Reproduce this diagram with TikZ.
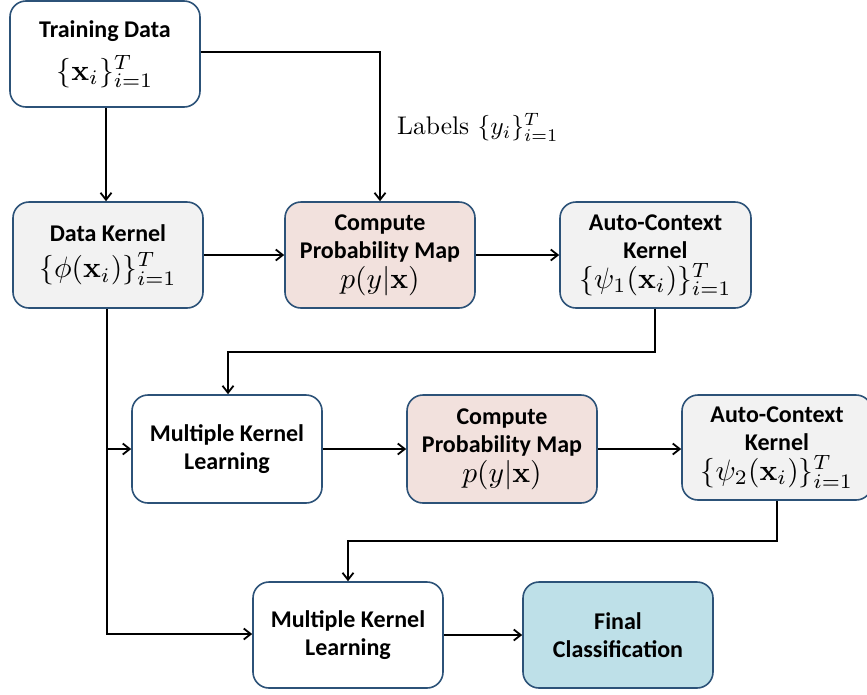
\documentclass[tikz,border=0pt]{standalone}
\usepackage{amsmath}
\usepackage{graphicx}
\usepackage[no-math]{fontspec}
\setmainfont{Carlito}
\newfontfamily\lmroman{Latin Modern Roman}
\usetikzlibrary{arrows.meta}
\definecolor{edgeblue}{RGB}{44,82,120}
\definecolor{kgray}{RGB}{242,242,242}
\definecolor{kpink}{RGB}{242,225,221}
\definecolor{kblue}{RGB}{190,224,232}
% formulas are set at 10pt and enlarged, so that all math sizes scale together
\newcommand{\boxmath}[1]{{\fontsize{10}{12}\selectfont\scalebox{2.95}{$#1$}}}
\begin{document}
\begin{tikzpicture}[x=1pt,y=-1pt,
  box/.style={draw=edgeblue,line width=1.6pt,rounded corners=16pt,
    minimum width=190pt,minimum height=106pt,inner sep=0pt,align=center,
    font=\fontsize{24}{28}\selectfont\bfseries},
  conn/.style={draw=black,line width=2pt,-{Straight Barb[length=7pt,width=11pt,line width=1.8pt]}}]
\useasboundingbox (0,0) rectangle (867,694);
% first row
\node[box,fill=white] (td) at (105,54) {Training Data\\[13pt]\boxmath{\{\mathbf{x}_i\}_{i=1}^T}};
\node[box,fill=kgray] (dk) at (108,255) {Data Kernel\\[8pt]\boxmath{\{\phi(\mathbf{x}_i)\}_{i=1}^T}};
\node[box,fill=kpink] (cp1) at (380,255) {Compute\\Probability Map\\[2pt]\boxmath{p(y|\mathbf{x})}};
\node[box,fill=kgray,minimum width=191pt] (ac1) at (655.5,255) {Auto-Context\\Kernel\\[2pt]\boxmath{\{\psi_1(\mathbf{x}_i)\}_{i=1}^T}};
% second row
\node[box,fill=white,minimum height=108pt] (mk1) at (227,449) {Multiple Kernel\\Learning};
\node[box,fill=kpink,minimum height=108pt] (cp2) at (502,449) {Compute\\Probability Map\\[2pt]\boxmath{p(y|\mathbf{x})}};
\node[box,fill=kgray,minimum width=190pt,minimum height=105pt] (ac2) at (777,447.5) {Auto-Context\\Kernel\\[2pt]\boxmath{\{\psi_2(\mathbf{x}_i)\}_{i=1}^T}};
% third row
\node[box,fill=white] (mk2) at (348,635) {Multiple Kernel\\Learning};
\node[box,fill=kblue] (fin) at (618,635) {Final\\Classification};
% labels annotation
\node[anchor=west,inner sep=0pt,font=\fontsize{10}{12}\selectfont] (lab) at (397,127)
  {\scalebox{2.55}{\lmroman Labels $\{y_i\}_{i=1}^T$}};
% connectors
\coordinate (tdr) at (td.east |- 0,52);
\coordinate (c1) at (380,52);
\draw[conn] (td.south -| 106,0) -- (dk.north -| 106,0);
\draw[conn] (tdr) -- (c1) -- (cp1.north);
\draw[conn] (dk.east) -- (cp1.west);
\draw[conn] (cp1.east) -- (ac1.west);
\coordinate (a1) at (655,352);
\coordinate (a2) at (228,352);
\draw[conn] (ac1.south -| a1) -- (a1) -- (a2) -- (mk1.north -| a2);
\coordinate (d1) at (107,634);
\coordinate (d2) at (107,449);
\draw[conn] (dk.south -| d1) -- (d1) -- (mk2.west |- d1);
\draw[conn] (d2) -- (mk1.west |- d2);
\draw[conn] (mk1.east) -- (cp2.west);
\draw[conn] (cp2.east) -- (ac2.west |- cp2.east);
\coordinate (b1) at (777,541);
\coordinate (b2) at (348,541);
\draw[conn] (ac2.south -| b1) -- (b1) -- (b2) -- (mk2.north -| b2);
\draw[conn] (mk2.east) -- (fin.west);
\end{tikzpicture}
\end{document}
